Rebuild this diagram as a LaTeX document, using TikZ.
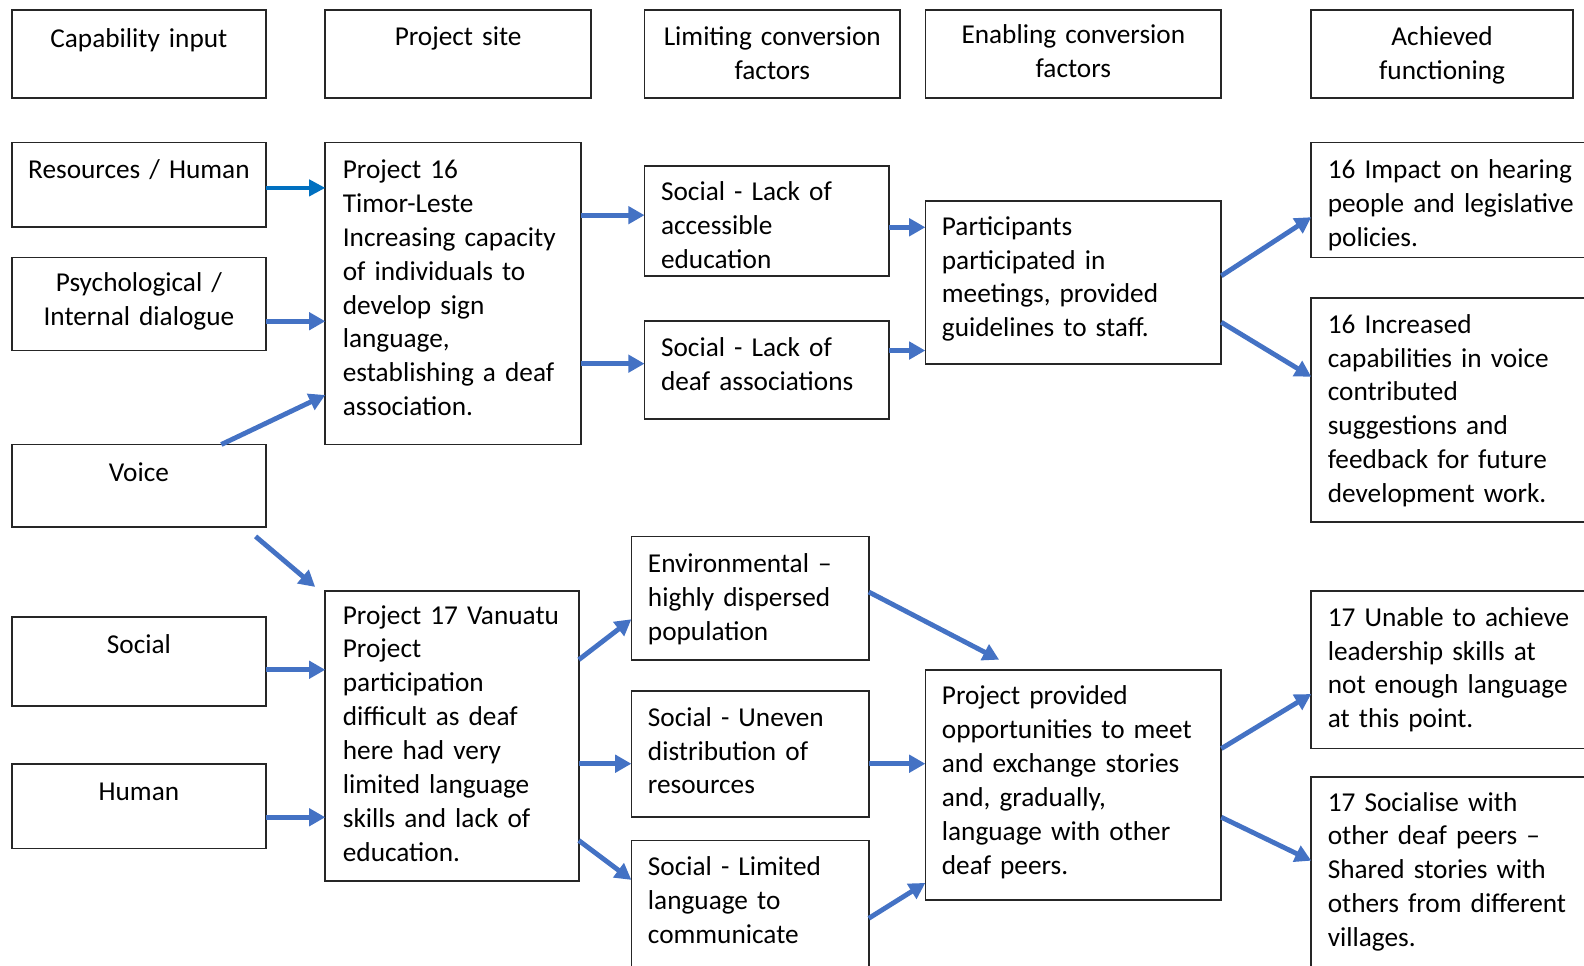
\documentclass[tikz,border=0pt]{standalone}
\usepackage{fontspec}
\setmainfont{Carlito}
\usetikzlibrary{arrows.meta,calc,fit}
\definecolor{linkblue}{HTML}{4472C4}
\definecolor{inblue}{HTML}{0070C0}
\definecolor{frame}{HTML}{262626}
\newcommand\diagfont{\fontsize{13.5pt}{16.75pt}\selectfont}

\begin{document}
\begin{tikzpicture}[x=0.5pt,y=-0.5pt,
  box/.style={draw=frame, line width=0.85pt, inner sep=0pt, outer sep=0pt},
  txt/.style={inner sep=0pt, font=\diagfont, align=left, text width=150pt,
    anchor=north west, yshift=-1pt, execute at begin node=\strut},
  ctr/.style={inner sep=0pt, font=\diagfont, align=center, text width=#1,
    anchor=north, yshift=-1pt, execute at begin node=\strut},
  link/.style={draw=linkblue, line width=2.4pt, -{Triangle[length=8pt,width=8.5pt]}},
  inlink/.style={draw=inblue, line width=1.8pt, -{Triangle[length=8pt,width=8pt]}},
]
\useasboundingbox (0,0) rectangle (1568,956);
\clip (0,0) rectangle (1568,956);

% ---- column headings ----
\node[box, fit={(12,10) (263,97)}] (h1) {};
\node[box, fit={(322,10) (585,97)}] (h2) {};
\node[box, fit={(638,10) (891,97)}] (h3) {};
\node[box, fit={(916,10) (1209,97)}] (h4) {};
\node[box, fit={(1298,10) (1557,97)}] (h5) {};
\node[ctr=125pt] (h1t) at ($(h1.north)+(0,11)$) {Capability input};
\node[ctr=131pt] (h2t) at ($(h2.north)+(0,9)$) {Project site};
\node[ctr=126pt] (h3t) at ($(h3.north)+(0,9)$) {Limiting conversion\\factors};
\node[ctr=146pt] (h4t) at ($(h4.north)+(0,7)$) {Enabling conversion\\factors};
\node[ctr=129pt] (h5t) at ($(h5.north)+(0,9)$) {Achieved\\functioning};

% ---- capability inputs ----
\node[box, fit={(12,141) (263,225)}] (res) {};
\node[box, fit={(12,255) (263,347)}] (psy) {};
\node[box, fit={(12,440) (263,522)}] (voi) {};
\node[box, fit={(12,611) (263,699)}] (soc) {};
\node[box, fit={(12,756) (263,840)}] (hum) {};
\node[ctr=125pt] (rest) at ($(res.north)+(0,10)$) {Resources / Human};
\node[ctr=125pt] (psyt) at ($(psy.north)+(0,8)$) {Psychological /\\Internal dialogue};
\node[ctr=125pt] (voit) at ($(voi.north)+(0,11)$) {Voice};
\node[ctr=125pt] (soct) at ($(soc.north)+(0,10)$) {Social};
\node[ctr=125pt] (humt) at ($(hum.north)+(0,11)$) {Human};

% ---- project sites ----
\node[box, fit={(322,141) (575,440)}] (p16) {};
\node[box, fit={(322,585) (573,872)}] (p17) {};
\node[txt] (p16t) at ($(p16.north west)+(17,10)$) {Project 16\\Timor-Leste\\Increasing capacity\\of individuals to\\develop sign\\language,\\establishing a deaf\\association.};
\node[txt] (p17t) at ($(p17.north west)+(17,7)$) {Project 17 Vanuatu\\Project\\participation\\difficult as deaf\\here had very\\limited language\\skills and lack of\\education.};

% ---- limiting conversion factors ----
\node[box, fit={(638,164) (880,273)}] (la) {};
\node[box, fit={(638,318) (880,415)}] (ld) {};
\node[box, fit={(625,531) (860,653)}] (env) {};
\node[box, fit={(625,684) (860,809)}] (unv) {};
\node[box, fit={(625,832) (860,962)}] (lim) {};
\node[txt] (lat) at ($(la.north west)+(16,9)$) {Social - Lack of\\accessible\\education};
\node[txt] (ldt) at ($(ld.north west)+(16,9)$) {Social - Lack of\\deaf associations};
\node[txt] (envt) at ($(env.north west)+(16,10)$) {Environmental --\\highly dispersed\\population};
\node[txt] (unvt) at ($(unv.north west)+(16,9)$) {Social - Uneven\\distribution of\\resources};
\node[txt] (limt) at ($(lim.north west)+(16,9)$) {Social - Limited\\language to\\communicate};

% ---- enabling conversion factors ----
\node[box, fit={(916,199) (1209,360)}] (par) {};
\node[box, fit={(916,663) (1209,891)}] (pp) {};
\node[txt] (part) at ($(par.north west)+(16,8)$) {Participants\\participated in\\meetings, provided\\guidelines to staff.};
\node[txt] (ppt) at ($(pp.north west)+(16,9)$) {Project provided\\opportunities to meet\\and exchange stories\\and, gradually,\\language with other\\deaf peers.};

% ---- achieved functionings ----
\node[box, fit={(1298,141) (1620,255)}] (a16a) {};
\node[box, fit={(1298,295) (1620,517)}] (a16b) {};
\node[box, fit={(1298,585) (1620,741)}] (a17a) {};
\node[box, fit={(1298,769) (1620,975)}] (a17b) {};
\node[txt] (a16at) at ($(a16a.north west)+(16,10)$) {16 Impact on hearing\\people and legislative\\policies.};
\node[txt] (a16bt) at ($(a16b.north west)+(16,9)$) {16 Increased\\capabilities in voice\\contributed\\suggestions and\\feedback for future\\development work.};
\node[txt] (a17at) at ($(a17a.north west)+(16,9)$) {17 Unable to achieve\\leadership skills at\\not enough language\\at this point.};
\node[txt] (a17bt) at ($(a17b.north west)+(16,8)$) {17 Socialise with\\other deaf peers --\\Shared stories with\\others from different\\villages.};

% ---- connectors: inputs to project sites ----
\coordinate (resout) at ($(res.east)+(0,3)$);
\draw[inlink] (resout) -- (resout -| p16.west);
\coordinate (psyout) at ($(psy.east)+(0,17)$);
\draw[link] (psyout) -- (psyout -| p16.west);
\draw[link] ($(voi.north west)!0.825!(voi.north east)$) -- ($(p16.south west)+(0,-49)$);
\coordinate (voidown) at ($(voi.south east)+(-10,9)$);
\draw[link] (voidown) -- ($(p17.north west)+(-10,-4)$);
\coordinate (socout) at ($(soc.east)+(0,8)$);
\draw[link] (socout) -- (socout -| p17.west);
\coordinate (humout) at ($(hum.east)+(0,11)$);
\draw[link] (humout) -- (humout -| p17.west);

% ---- project sites to limiting factors ----
\coordinate (lain) at ($(la.west)+(0,-5.5)$);
\draw[link] (lain -| p16.east) -- (lain);
\coordinate (ldin) at ($(ld.west)+(0,-6.5)$);
\draw[link] (ldin -| p16.east) -- (ldin);
\draw[link] ($(p17.north east)+(0,68)$) -- ($(env.west)+(0,21)$);
\coordinate (unvin) at ($(unv.west)+(0,9.5)$);
\draw[link] (unvin -| p17.east) -- (unvin);
\draw[link] ($(p17.north east)+(0,247)$) -- ($(lim.north west)+(0,39)$);

% ---- limiting to enabling factors ----
\coordinate (laout) at ($(la.east)+(0,6.5)$);
\draw[link] (laout) -- (laout -| par.west);
\coordinate (ldout) at ($(ld.east)+(0,-19.5)$);
\draw[link] (ldout) -- (ldout -| par.west);
\draw[link] ($(env.east)+(0,-6)$) -- ($(pp.north west)+(73,-10)$);
\coordinate (unvout) at ($(unv.east)+(0,9.5)$);
\draw[link] (unvout) -- (unvout -| pp.west);
\draw[link] ($(lim.north east)+(0,77)$) -- ($(pp.south west)+(0,-17)$);

% ---- enabling factors to achieved functionings ----
\draw[link] ($(par.north east)+(0,74)$) -- ($(a16a.north west)+(0,74)$);
\draw[link] ($(par.north east)+(0,120)$) -- ($(a16b.north west)+(0,78)$);
\draw[link] ($(pp.north east)+(0,78)$) -- ($(a17a.north west)+(0,102)$);
\draw[link] ($(pp.north east)+(0,146)$) -- ($(a17b.north west)+(0,83)$);
\end{tikzpicture}
\end{document}
